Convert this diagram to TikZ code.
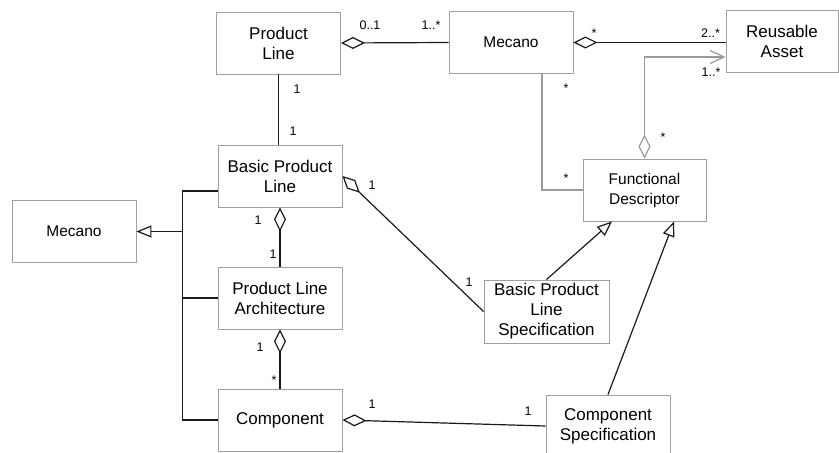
\documentclass[tikz,border=0pt]{standalone}
\usepackage{fontspec}
\setmainfont{Liberation Sans}
\usetikzlibrary{arrows.meta}
\definecolor{boxgray}{HTML}{A0A0A0}
\definecolor{linegray}{HTML}{9A9A9A}
\definecolor{ink}{HTML}{1A1A1A}
\tikzset{
  cls/.style={draw=boxgray, line width=0.9pt, align=center, inner sep=0pt,
    minimum width=124pt, minimum height=62pt, text=black,
    font=\fontsize{17}{20}\selectfont},
  clssmall/.style={cls, font=\fontsize{15.5}{20}\selectfont},
  lbl/.style={anchor=base, inner sep=0pt, text=black, font=\fontsize{12.5}{14}\selectfont},
  conn/.style={draw=ink, line width=1.2pt},
  gconn/.style={draw=linegray, line width=1.2pt},
  agg/.style={-{Diamond[open, length=24pt, width=12pt, line width=1.2pt]}},
  gen/.style={-{Triangle[open, length=15pt, width=12pt, line width=1.2pt]}},
}
\begin{document}
\begin{tikzpicture}[x=1pt, y=-1pt]
\clip (0,0) rectangle (839,453);
\fill[white] (0,0) rectangle (839,453);

% classes
\node[cls] (pl) at (278.5,43) {Product\\Line};
\node[clssmall] (mec) at (511,42.5) {Mecano};
\node[cls, minimum width=112pt] (ra) at (782,41.5) {Reusable\\Asset};
\node[clssmall, minimum width=123pt] (fd) at (644.5,190) {Functional\\Descriptor};
\node[cls] (bpl) at (280,176) {Basic Product\\Line};
\node[clssmall] (mec2) at (74,231.5) {Mecano};
\node[cls] (pla) at (280,298) {Product Line\\Architecture};
\node[cls] (comp) at (280,420) {Component};
\node[cls, minimum width=125pt, minimum height=63pt] (bpls) at (546.5,311.5) {Basic Product\\Line\\Specification};
\node[cls] (cs) at (608,426) {Component\\Specification};

% aggregations (black)
\draw[conn, agg] (mec.west) -- (pl.east);
\draw[conn, agg] (ra.west |- mec.east) -- (mec.east);
\draw[conn, agg] (pla.north) -- (bpl.south);
\draw[conn, agg] (comp.north) -- (pla.south);
\draw[conn, agg] (bpls.west) -- (bpl.east);
\draw[conn, agg] (cs.west) -- (comp.east);

% plain association
\draw[conn] (pl.south) -- (pl.south |- bpl.north);

% gray associations
\draw[gconn, {Diamond[open, length=24pt, width=12pt, line width=1.2pt]}-{Straight Barb[length=14pt, width=13pt, line width=1.2pt]}]
  (fd.north) |- ([yshift=-15.5pt]ra.west);
\draw[gconn] ([xshift=31pt]mec.south) |- (fd.west);

% generalizations
\draw[conn] ([yshift=-15pt]bpl.west) -| ([xshift=-35pt]comp.west) -- (comp.west);
\draw[conn] (pla.west) -- ++(-35,0);
\draw[conn, gen] ([xshift=-35pt]bpl.west |- mec2.east) -- (mec2.east);
\draw[conn, gen] (bpls.north) -- ([xshift=-32.5pt]fd.south);
\draw[conn, gen] (cs.north) -- ([xshift=29.5pt]fd.south);

% multiplicities
\node[lbl] (m1) at (370,29) {0..1};
\node[lbl] (m2) at (431,29) {1..*};
\node[lbl] (m3) at (594,37) {*};
\node[lbl] (m4) at (710.5,37) {2..*};
\node[lbl] (m5) at (711,76) {1..*};
\node[lbl] (m6) at (566,92) {*};
\node[lbl] (m7) at (663,141) {*};
\node[lbl] (m8) at (566,182) {*};
\node[lbl] (m9) at (297,93) {1};
\node[lbl] (m10) at (293,135) {1};
\node[lbl] (m11) at (258,224) {1};
\node[lbl] (m12) at (273,258) {1};
\node[lbl] (m13) at (260,351) {1};
\node[lbl] (m14) at (274,384) {*};
\node[lbl] (m15) at (372,408) {1};
\node[lbl] (m16) at (528,415) {1};
\node[lbl] (m17) at (372,189) {1};
\node[lbl] (m18) at (469,286) {1};
\end{tikzpicture}
\end{document}
